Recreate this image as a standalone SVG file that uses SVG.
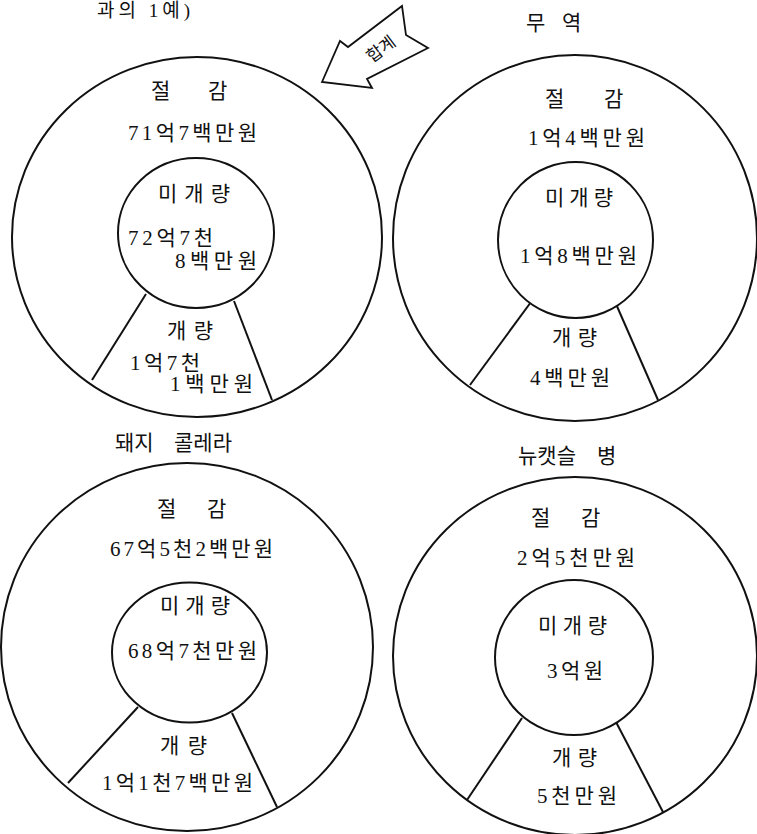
<svg xmlns="http://www.w3.org/2000/svg" width="757" height="834" viewBox="0 0 757 834">
<style>
.ring{fill:none;stroke:#111;stroke-width:2}
.core{fill:#fff;stroke:#111;stroke-width:2}
.cut{stroke:#111;stroke-width:2;fill:none}
text{font-family:"Liberation Serif","Noto Sans CJK KR",serif;font-size:21px;fill:#111}
.sum{fill:#fff;stroke:#111;stroke-width:1.8;stroke-linejoin:miter}
.sumt{font-family:"Noto Sans CJK KR",sans-serif;font-size:17px}
</style>
<rect width="757" height="834" fill="#fff"/>
<text x="97" y="17" textLength="93" lengthAdjust="spacing" style="font-size:19px">과의 1예)</text>

<g id="arrow-total">
<polygon class="sum" points="322,82 340,41 348,47 402,6 406,35 428,48 367,79 372,88"/>
<text class="sumt" x="381" y="55" text-anchor="middle" transform="rotate(-37 381 49)">합계</text>
</g>

<g id="total">
<ellipse class="ring" cx="197" cy="237" rx="185" ry="180"/>
<line class="cut" x1="146" y1="294" x2="92" y2="380"/>
<line class="cut" x1="234" y1="301" x2="272" y2="400"/>
<ellipse class="core" cx="196" cy="233" rx="78" ry="75"/>
<text y="98"><tspan x="151">절</tspan><tspan x="208">감</tspan></text>
<text x="128" y="140" textLength="129" lengthAdjust="spacing">71억7백만원</text>
<text x="158" y="201" textLength="72" lengthAdjust="spacing">미개량</text>
<text x="128" y="245" textLength="85" lengthAdjust="spacing">72억7천</text>
<text x="175" y="268" textLength="82" lengthAdjust="spacing">8백만원</text>
<text x="167" y="338" textLength="46" lengthAdjust="spacing">개량</text>
<text x="130" y="370" textLength="70" lengthAdjust="spacing">1억7천</text>
<text x="170" y="391" textLength="83" lengthAdjust="spacing">1백만원</text>
</g>

<g id="trade">
<text y="30"><tspan x="526">무</tspan><tspan x="562">역</tspan></text>
<ellipse class="ring" cx="575" cy="238" rx="182" ry="183"/>
<line class="cut" x1="531" y1="302" x2="470" y2="385"/>
<line class="cut" x1="616" y1="304" x2="658" y2="400"/>
<ellipse class="core" cx="575.5" cy="240" rx="77.5" ry="78"/>
<text y="106"><tspan x="545">절</tspan><tspan x="604">감</tspan></text>
<text x="528" y="145" textLength="117" lengthAdjust="spacing">1억4백만원</text>
<text x="545" y="205" textLength="68" lengthAdjust="spacing">미개량</text>
<text x="520" y="263" textLength="117" lengthAdjust="spacing">1억8백만원</text>
<text x="552" y="345" textLength="45" lengthAdjust="spacing">개량</text>
<text x="530" y="385" textLength="80" lengthAdjust="spacing">4백만원</text>
</g>

<g id="hog-cholera">
<text y="450"><tspan x="115">돼지</tspan><tspan x="174">콜레라</tspan></text>
<ellipse class="ring" cx="187" cy="647" rx="186" ry="184"/>
<line class="cut" x1="138" y1="707" x2="68" y2="783"/>
<line class="cut" x1="232" y1="713" x2="277" y2="807"/>
<ellipse class="core" cx="189.5" cy="652.5" rx="77.5" ry="70"/>
<text y="516"><tspan x="157">절</tspan><tspan x="207">감</tspan></text>
<text x="110" y="556" textLength="163" lengthAdjust="spacing">67억5천2백만원</text>
<text x="160" y="613" textLength="70" lengthAdjust="spacing">미개량</text>
<text x="128" y="658" textLength="129" lengthAdjust="spacing">68억7천만원</text>
<text x="160" y="753" textLength="47" lengthAdjust="spacing">개량</text>
<text x="102" y="790" textLength="151" lengthAdjust="spacing">1억1천7백만원</text>
</g>

<g id="newcastle">
<text y="463"><tspan x="518">뉴캣슬</tspan><tspan x="597">병</tspan></text>
<ellipse class="ring" cx="575" cy="656" rx="182" ry="179"/>
<line class="cut" x1="522" y1="718" x2="467" y2="800"/>
<line class="cut" x1="616" y1="722" x2="663" y2="812"/>
<ellipse class="core" cx="574" cy="657.5" rx="79" ry="77.5"/>
<text y="525"><tspan x="531">절</tspan><tspan x="581">감</tspan></text>
<text x="517" y="565" textLength="118" lengthAdjust="spacing">2억5천만원</text>
<text x="538" y="633" textLength="69" lengthAdjust="spacing">미개량</text>
<text x="547" y="678" textLength="56" lengthAdjust="spacing">3억원</text>
<text x="552" y="765" textLength="45" lengthAdjust="spacing">개량</text>
<text x="537" y="803" textLength="80" lengthAdjust="spacing">5천만원</text>
</g>

<g id="connectors"></g>
</svg>
